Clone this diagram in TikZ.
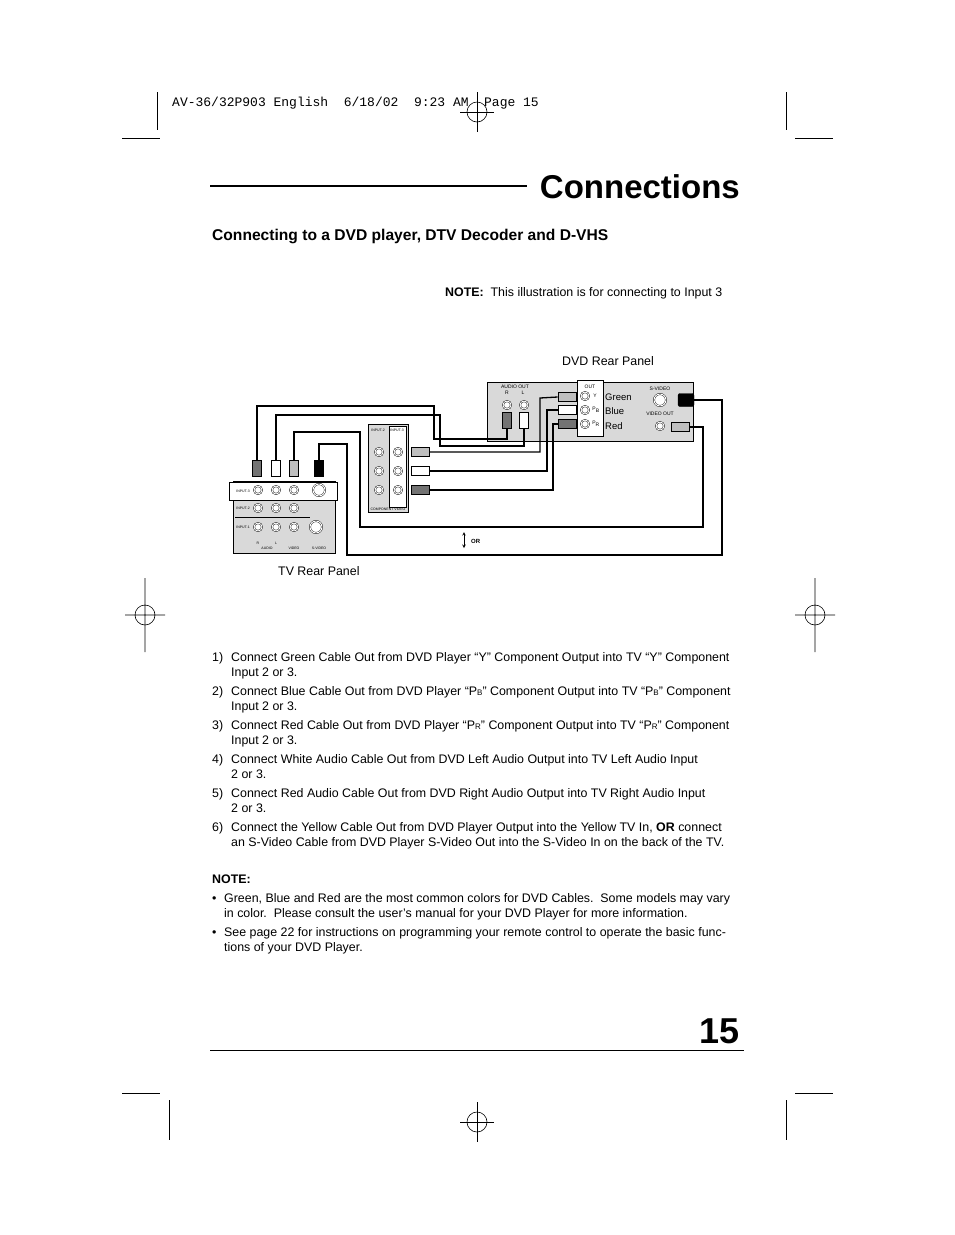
\documentclass[tikz,border=0pt]{standalone}
\usepackage{fontspec}
\setmainfont{Liberation Sans}
\setmonofont{Liberation Mono}
\usepackage{tikz}
\usetikzlibrary{positioning}
\tikzset{
  txt/.style={anchor=base west,inner sep=0pt,font=\fontsize{12.4}{14}\selectfont},
  tiny/.style={inner sep=0pt,font=\fontsize{5}{6}\selectfont},
  jack/.style={circle,draw,fill=white,minimum size=8pt,inner sep=0pt,double,double distance=1pt},
  plug/.style={draw,thick,minimum width=9pt,minimum height=16pt,inner sep=0pt},
  hplug/.style={draw,thick,minimum width=18pt,minimum height=9pt,inner sep=0pt},
  wire/.style={line width=1.3pt},
  crop/.style={line width=0.6pt},
}
\newcommand{\regmark}[2]{%
\draw[crop] (#1,#2) circle (10);
\draw[crop] (#1-17,#2) -- (#1+17,#2);
\draw[crop] (#1,#2-20) -- (#1,#2+20);}
\newcommand{\subsc}[1]{{\fontsize{8}{8}\selectfont #1}}
\begin{document}
\begin{tikzpicture}[x=1pt,y=-1pt]
\useasboundingbox[fill=white] (0,0) rectangle (954,1235);
% crop marks
\draw[crop] (157,92) -- (157,130) (122,138) -- (160,138);
\draw[crop] (786,92) -- (786,130) (795,138) -- (833,138);
\draw[crop] (169,1100) -- (169,1140) (122,1093) -- (160,1093);
\draw[crop] (786,1100) -- (786,1140) (795,1093) -- (833,1093);
\regmark{477}{112}
\regmark{477}{1122}
\draw[crop] (145,578) -- (145,652) (125,615) -- (165,615) (145,615) circle (10);
\draw[crop] (815,578) -- (815,652) (795,615) -- (835,615) (815,615) circle (10);
\node[anchor=base west,inner sep=0pt,font=\ttfamily\fontsize{13}{14}\selectfont] (hdr) at (172,106) {AV-36/32P903 English\ \ 6/18/02\ \ 9:23 AM\ \ Page 15};

% title
\draw[line width=1.8pt] (210,186) -- (527,186);
\node[anchor=base east,inner sep=0pt,font=\bfseries\fontsize{33}{36}\selectfont] (title) at (740,198) {Connections};
\node[anchor=base west,inner sep=0pt,font=\bfseries\fontsize{15.6}{18}\selectfont] (sub) at (212,240) {Connecting to a DVD player, DTV Decoder and D-VHS};
\node[txt] (note) at (445,296) {\textbf{NOTE:}\ \ This illustration is for connecting to Input 3};
\node[txt] (dvdlbl) at (562,365) {DVD Rear Panel};
\node[txt] (tvlbl) at (278,575) {TV Rear Panel};

% DVD panel
\draw[fill=black!15,thick] (487,382) rectangle (693,441);
\draw[fill=white,thick] (577,380) rectangle (603,436);
\node[tiny] (aout) at (515,387) {AUDIO OUT};
\node[tiny] (outl) at (590,387) {OUT};
\node[tiny] at (507,393) {R};
\node[tiny] at (523,393) {L};
\node[tiny] at (595,396) {Y};
\node[tiny] at (596,410) {P\textsubscript{B}};
\node[tiny] at (596,424) {P\textsubscript{R}};
\node[txt,font=\fontsize{9.5}{11}\selectfont] (gr) at (605,400) {Green};
\node[txt,font=\fontsize{9.5}{11}\selectfont] (bl) at (605,414) {Blue};
\node[txt,font=\fontsize{9.5}{11}\selectfont] (rd) at (605,429) {Red};
\node[tiny] at (660,389) {S-VIDEO};
\node[tiny] at (660,414) {VIDEO OUT};
\node[jack] (dY) at (585,396) {};
\node[jack] (dB) at (585,410) {};
\node[jack] (dR) at (585,424) {};
\node[jack] (dAR) at (507,405) {};
\node[jack] (dAL) at (524,405) {};
\node[jack,minimum size=12pt] (dSV) at (660,400) {};
\node[jack] (dV) at (660,426) {};
\node[plug,fill=black!55] (pAR) at (507,420) {};
\node[plug,fill=white] (pAL) at (524,420) {};
\node[hplug,fill=black!25] (pY) at (567,397) {};
\node[hplug,fill=white] (pB) at (567,410) {};
\node[hplug,fill=black!55] (pR) at (567,424) {};
\node[hplug,fill=black!25] (pV) at (680,427) {};
\node[draw,fill=black,minimum width=16pt,minimum height=13pt,inner sep=0pt,rounded corners=2pt] (pSV) at (686,400) {};

% TV component panel
\draw[fill=black!15,thick] (368,424) rectangle (408,512);
\draw[fill=white] (389,426) rectangle (406,507);
\node[tiny,font=\fontsize{3.5}{4}\selectfont] at (378,430) {INPUT-2};
\node[tiny,font=\fontsize{3.5}{4}\selectfont] at (397,430) {INPUT-3};
\node[tiny,font=\fontsize{3.5}{4}\selectfont] at (388,509) {COMPONENT VIDEO};
\foreach \y in {452,471,490}{
  \node[jack] at (379,\y) {};
  \node[jack] at (398,\y) {};
}
\node[hplug,fill=black!25] (tY) at (420,452) {};
\node[hplug,fill=white] (tB) at (420,471) {};
\node[hplug,fill=black!55] (tR) at (420,490) {};

% TV rear panel
\draw[fill=black!15,thick] (233,481) rectangle (335,553);
\draw[fill=white,thick] (229,482) rectangle (337,500);
\node[tiny,font=\fontsize{3.5}{4}\selectfont] at (243,491) {INPUT-3};
\node[tiny,font=\fontsize{3.5}{4}\selectfont] at (243,508) {INPUT-2};
\node[tiny,font=\fontsize{3.5}{4}\selectfont] at (243,527) {INPUT-1};
\foreach \x in {258,276,294}{
  \node[jack] at (\x,490) {};
  \node[jack] at (\x,508) {};
  \node[jack] at (\x,527) {};
}
\node[jack,minimum size=12pt] (tSV3) at (319,490) {};
\node[jack,minimum size=12pt] (tSV1) at (316,527) {};
\draw (235,517) -- (310,517);
\node[tiny,font=\fontsize{3.5}{4}\selectfont] at (258,543) {R};
\node[tiny,font=\fontsize{3.5}{4}\selectfont] at (276,543) {L};
\node[tiny,font=\fontsize{3.5}{4}\selectfont] at (267,548) {AUDIO};
\node[tiny,font=\fontsize{3.5}{4}\selectfont] at (294,548) {VIDEO};
\node[tiny,font=\fontsize{3.5}{4}\selectfont] at (319,548) {S-VIDEO};
\node[plug,fill=black!55] (tAR) at (257,468) {};
\node[plug,fill=white] (tAL) at (276,468) {};
\node[plug,fill=black!25] (tV) at (294,468) {};
\node[plug,fill=black] (tS) at (319,468) {};

% cables
\draw[wire] (tAR.north) |- (434,406) |- (507,439) -- (pAR.south);
\draw[wire] (tAL.north) |- (440,415) |- (524,446) -- (pAL.south);
\draw[wire] (tV.north) |- (360,432) |- (703,527) |- (pV.east);
\draw[wire,line width=2pt] (tS.north) |- (347,444) |- (722,555) |- (pSV.east);
\draw[wire] (tY.east) -| (540,398) -- (pY.west);
\draw[wire] (tB.east) -| (547,410) -- (pB.west);
\draw[wire] (tR.east) -| (553,424) -- (pR.west);
\draw[->,>=stealth,semithick] (464,540) -- (464,548);
\draw[->,>=stealth,semithick] (464,540) -- (464,532);
\node[txt,font=\bfseries\fontsize{6}{7}\selectfont] (orl) at (471,543) {OR};

% steps
\foreach \n/\y/\a/\b in {
 1/661/{Connect Green Cable Out from DVD Player “Y” Component Output into TV “Y” Component}/{Input 2 or 3.},
 2/695/{Connect Blue Cable Out from DVD Player “P\subsc{B}” Component Output into TV “P\subsc{B}” Component}/{Input 2 or 3.},
 3/729/{Connect Red Cable Out from DVD Player “P\subsc{R}” Component Output into TV “P\subsc{R}” Component}/{Input 2 or 3.},
 4/763/{Connect White Audio Cable Out from DVD Left Audio Output into TV Left Audio Input}/{2 or 3.},
 5/797/{Connect Red Audio Cable Out from DVD Right Audio Output into TV Right Audio Input}/{2 or 3.},
 6/831/{Connect the Yellow Cable Out from DVD Player Output into the Yellow TV In, \textbf{OR} connect}/{an S-Video Cable from DVD Player S-Video Out into the S-Video In on the back of the TV.}}{
 \node[txt] at (212,\y) {\n)};
 \node[txt] at (231,\y) {\a};
 \node[txt] at (231,\y+15) {\b};
}
\node[txt,font=\bfseries\fontsize{12.4}{14}\selectfont] (nt) at (212,883) {NOTE:};
\node[txt] at (212,902) {•};
\node[txt] at (224,902) {Green, Blue and Red are the most common colors for DVD Cables.\ \ Some models may vary};
\node[txt] at (224,917) {in color.\ \ Please consult the user’s manual for your DVD Player for more information.};
\node[txt] at (212,936) {•};
\node[txt] at (224,936) {See page 22 for instructions on programming your remote control to operate the basic func-};
\node[txt] at (224,951) {tions of your DVD Player.};

% page number
\node[anchor=base east,inner sep=0pt,font=\bfseries\fontsize{36}{38}\selectfont] (pg) at (740,1043) {15};
\draw[line width=1pt] (210,1050) -- (744,1050);
\end{tikzpicture}
\end{document}
